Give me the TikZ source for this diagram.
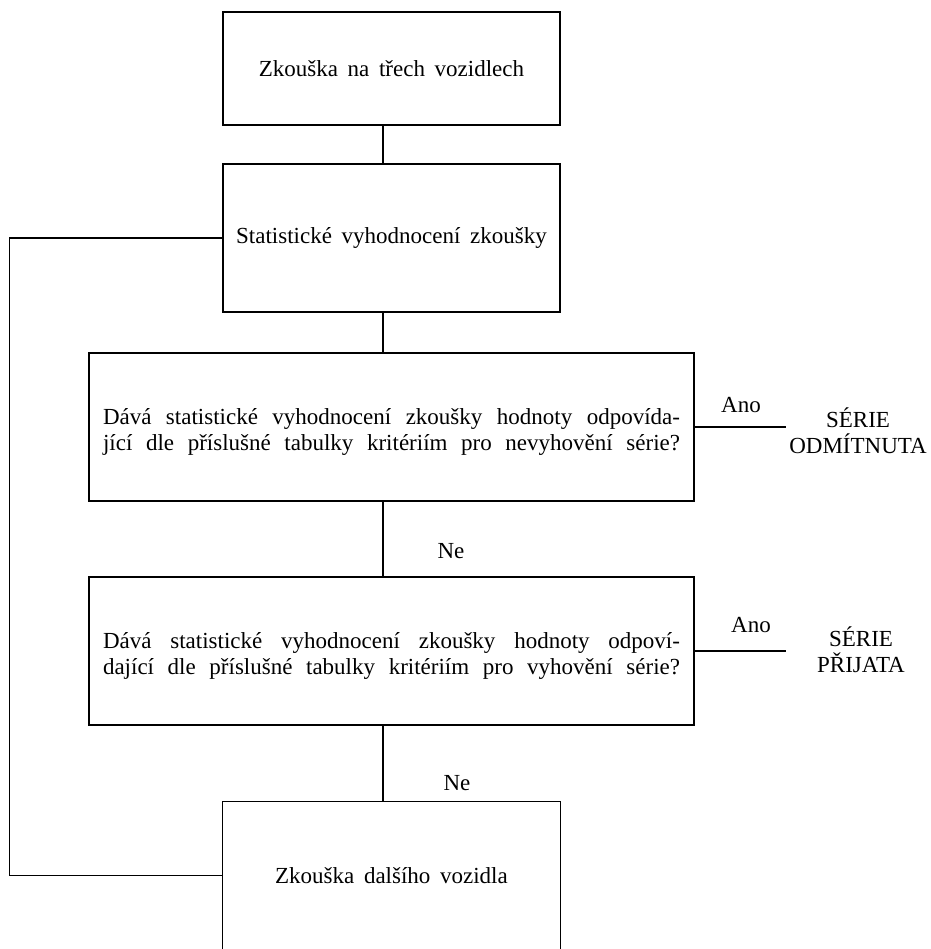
\documentclass[tikz,border=0pt]{standalone}
\usepackage{fontspec}
\setmainfont{Liberation Serif}
\newcommand{\jline}[1]{\makebox[577pt][s]{#1}}
\newcommand{\diagfont}{\fontsize{23}{26}\selectfont\spaceskip=0.42em plus 0.3em minus 0.05em\relax}
\begin{document}
\begin{tikzpicture}[x=1pt,y=-1pt,
  line width=1.4pt,
  every node/.style={font=\diagfont, inner sep=0pt},
  smallbox/.style={draw, minimum width=337pt, minimum height=113pt},
  bigbox/.style={draw, minimum width=605pt, minimum height=148pt},
  decisiontext/.style={align=left},
  lbl/.style={anchor=base},
  result/.style={align=center}
]
\useasboundingbox (0,0) rectangle (930,949);
\node[smallbox] (b1) at (391.5,68.5) {Zkouška na třech vozidlech};
\node[smallbox, minimum height=148pt] (b2) at (391.5,238) {Statistické vyhodnocení zkoušky};
\node[bigbox] (b3) at (391.5,427) {};
\node[decisiontext] (t3) at (391.5,432) {\jline{Dává statistické vyhodnocení zkoušky hodnoty odpovída-}\\\jline{jící dle příslušné tabulky kritériím pro nevyhovění série?}};
\node[bigbox] (b4) at (391.5,651) {};
\node[decisiontext] (t4) at (391.5,656) {\jline{Dává statistické vyhodnocení zkoušky hodnoty odpoví-}\\\jline{dající dle příslušné tabulky kritériím pro vyhovění série?}};
\node[minimum width=337pt, minimum height=147pt] (b5) at (391.5,875.5) {Zkouška dalšího vozidla};
\draw (b5.south west) -- (b5.north west) -- (b5.north east) -- (b5.south east);

\draw (b1.south -| 383,0) -- (b2.north -| 383,0);
\draw (b2.south -| 383,0) -- (b3.north -| 383,0);
\draw (b3.south -| 383,0) -- (b4.north -| 383,0);
\draw (b4.south -| 383,0) -- (b5.north -| 383,0);

\draw (b2.west) -- ++(-213,0) coordinate (lc) |- (b5.west);

\draw (b3.east) -- ++(91,0) coordinate (a1);
\draw (b4.east) -- ++(91,0) coordinate (a2);

\node[lbl] (ano1) at (741,412) {Ano};
\node[lbl] (ano2) at (751,632) {Ano};
\node[lbl] (ne1) at (451,558) {Ne};
\node[lbl] (ne2) at (457,790) {Ne};
\node[result] (r1) at (858,431) {SÉRIE\\ODMÍTNUTA};
\node[result] (r2) at (861,650) {SÉRIE\\PŘIJATA};
\end{tikzpicture}
\end{document}
